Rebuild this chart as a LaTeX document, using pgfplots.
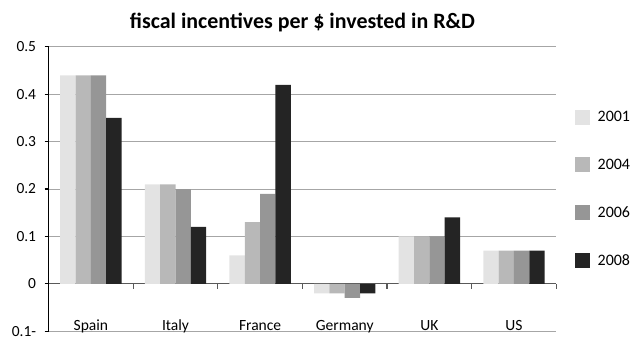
\documentclass[border=0pt]{standalone}
\usepackage{pgfplots}
\pgfplotsset{compat=1.18}
\usepackage{fontspec}
\setmainfont{Carlito}
\definecolor{c2001}{HTML}{E3E3E3}
\definecolor{c2004}{HTML}{B8B8B8}
\definecolor{c2006}{HTML}{969696}
\definecolor{c2008}{HTML}{242424}
\begin{document}
\begin{tikzpicture}
\begin{axis}[
  name=main,
  scale only axis,
  width=509pt, height=285pt,
  xmin=-0.5, xmax=5.5,
  ymin=-0.1, ymax=0.5,
  axis x line*=middle,
  axis y line*=left,
  axis line style={-},
  x axis line style={draw=black!65, line width=1.3pt},
  y axis line style={draw=black, line width=1.6pt},
  xtick={0,1,2,3,4,5},
  xticklabels={Spain,Italy,France,Germany,UK,US},
  major x tick style={draw=none},
  minor xtick={0.5,1.5,2.5,3.5,4.5,5.5},
  minor x tick style={draw=black!65, line width=1.3pt},
  minor tick length=5pt,
  xtick align=outside,
  xticklabel style={anchor=base, yshift=-43pt, font=\fontsize{15.6}{17}\selectfont},
  ytick={-0.1,0,0.1,0.2,0.3,0.4,0.5},
  yticklabels={0.1-,0,0.1,0.2,0.3,0.4,0.5},
  ytick align=outside,
  major y tick style={draw=black, line width=1.2pt},
  major tick length=4pt,
  yticklabel style={font=\fontsize{15.5}{17}\selectfont, xshift=-5pt},
  /pgf/number format/assume math mode=true,
  ymajorgrids,
  grid style={draw=black!35, line width=1pt},
  ybar=0pt,
  bar width=15.4pt,
  title={\bfseries fiscal incentives per \$ invested in R\&D},
  title style={font=\fontsize{22}{24}\selectfont, at={(0.5,1)}, anchor=base, yshift=12.7pt, inner sep=0pt},
  legend style={draw=none, fill=none, at={(1.03,0.789)}, anchor=north west,
    font=\fontsize{16}{18}\selectfont, row sep=32pt, column sep=8pt,
    nodes={inner sep=0pt, minimum height=16pt}},
  legend cell align=left,
  legend image code/.code={\path[#1,draw=none] (0pt,-7.5pt) rectangle (15pt,7.5pt);},
  clip=false,
]
\addplot[fill=c2001, draw=none] coordinates {(0,0.44) (1,0.21) (2,0.06) (3,-0.02) (4,0.10) (5,0.07)};
\addplot[fill=c2004, draw=none] coordinates {(0,0.44) (1,0.21) (2,0.13) (3,-0.02) (4,0.10) (5,0.07)};
\addplot[fill=c2006, draw=none] coordinates {(0,0.44) (1,0.20) (2,0.19) (3,-0.03) (4,0.10) (5,0.07)};
\addplot[fill=c2008, draw=none] coordinates {(0,0.35) (1,0.12) (2,0.42) (3,-0.02) (4,0.14) (5,0.07)};
\legend{2001,2004,2006,2008}
\end{axis}
\path[use as bounding box] ([xshift=-48.7pt,yshift=-5pt]main.south west) rectangle ++(633pt,337pt);
\end{tikzpicture}
\end{document}
